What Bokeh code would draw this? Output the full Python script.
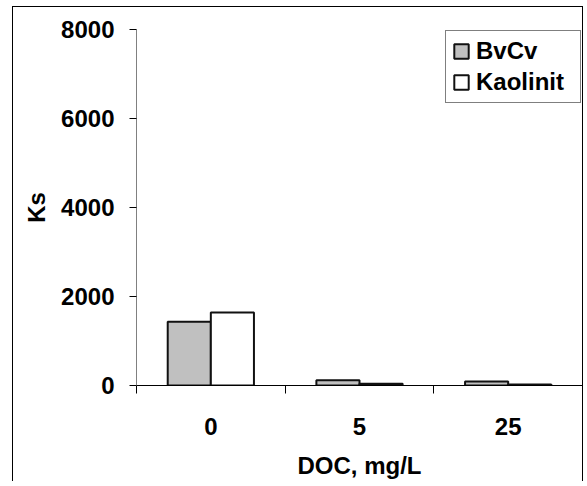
from bokeh.plotting import figure
from bokeh.models import ColumnDataSource, Range1d, FixedTicker, Legend, LegendItem
from bokeh.transform import dodge
from bokeh.embed import file_html
from bokeh.resources import INLINE

# Data
categories = ["0", "5", "25"]
bvcv = [1430, 120, 90]
kaolinit = [1640, 40, 25]
y_ticks = [0, 2000, 4000, 6000, 8000]

FONT = "Liberation Sans"

xpos = [i + 0.5 for i in range(len(categories))]
src = ColumnDataSource(dict(x=xpos, bvcv=bvcv, kaolinit=kaolinit))

p = figure(frame_width=446, frame_height=356,
           x_range=Range1d(0, len(categories)), y_range=Range1d(0, 8000),
           output_backend="svg", toolbar_location=None,
           min_border_left=123, min_border_right=0,
           min_border_top=22, min_border_bottom=70)
p.styles = {"margin-left": "12px", "margin-top": "6px",
            "border-left": "1px solid black", "border-top": "1px solid black",
            "border-right": "1px solid black"}

bw = 0.29
r1 = p.vbar(x=dodge("x", -bw / 2, range=p.x_range), top="bvcv", width=bw,
            source=src, fill_color="#c0c0c0", line_color="#111111", line_width=2)
r2 = p.vbar(x=dodge("x", bw / 2, range=p.x_range), top="kaolinit", width=bw,
            source=src, fill_color="white", line_color="#111111", line_width=2)

p.grid.visible = False
p.outline_line_color = None
p.background_fill_color = "white"
p.border_fill_color = "white"

# x axis
xa = p.xaxis[0]
xa.ticker = FixedTicker(ticks=xpos, minor_ticks=list(range(len(categories) + 1)))
xa.major_label_overrides = {x: c for x, c in zip(xpos, categories)}
xa.major_tick_out = 0
xa.major_tick_in = 0
xa.minor_tick_out = 8
xa.minor_tick_in = 0
xa.minor_tick_line_color = "black"
xa.axis_line_color = "black"
xa.axis_label = "DOC, mg/L"
xa.major_label_standoff = 24
xa.axis_label_standoff = 14

# y axis
ya = p.yaxis[0]
ya.ticker = FixedTicker(ticks=y_ticks, minor_ticks=[])
ya.axis_line_color = "#808080"
ya.major_tick_line_color = "black"
ya.major_tick_out = 7
ya.major_tick_in = 0
ya.minor_tick_out = 0
ya.minor_tick_in = 0
ya.major_label_standoff = 15
ya.axis_label = "Ks"
ya.axis_label_standoff = 8

for ax in (xa, ya):
    ax.major_label_text_font = FONT
    ax.major_label_text_font_style = "bold"
    ax.major_label_text_font_size = "24px"
    ax.major_label_text_color = "black"
    ax.axis_label_text_font = FONT
    ax.axis_label_text_font_style = "bold"
    ax.axis_label_text_font_size = "24px"
    ax.axis_label_text_color = "black"

legend = Legend(items=[LegendItem(label="BvCv", renderers=[r1]),
                       LegendItem(label="Kaolinit", renderers=[r2])],
                location=(309, 282))
legend.label_text_font = FONT
legend.label_text_font_style = "bold"
legend.label_text_font_size = "24px"
legend.label_text_color = "black"
legend.glyph_width = 18
legend.glyph_height = 18
legend.label_standoff = 6
legend.label_height = 24
legend.label_width = 98
legend.spacing = 3
legend.padding = 6
legend.border_line_color = "black"
legend.border_line_width = 1
legend.background_fill_alpha = 1
p.add_layout(legend)

open("out.html", "w").write(file_html(p, INLINE))
